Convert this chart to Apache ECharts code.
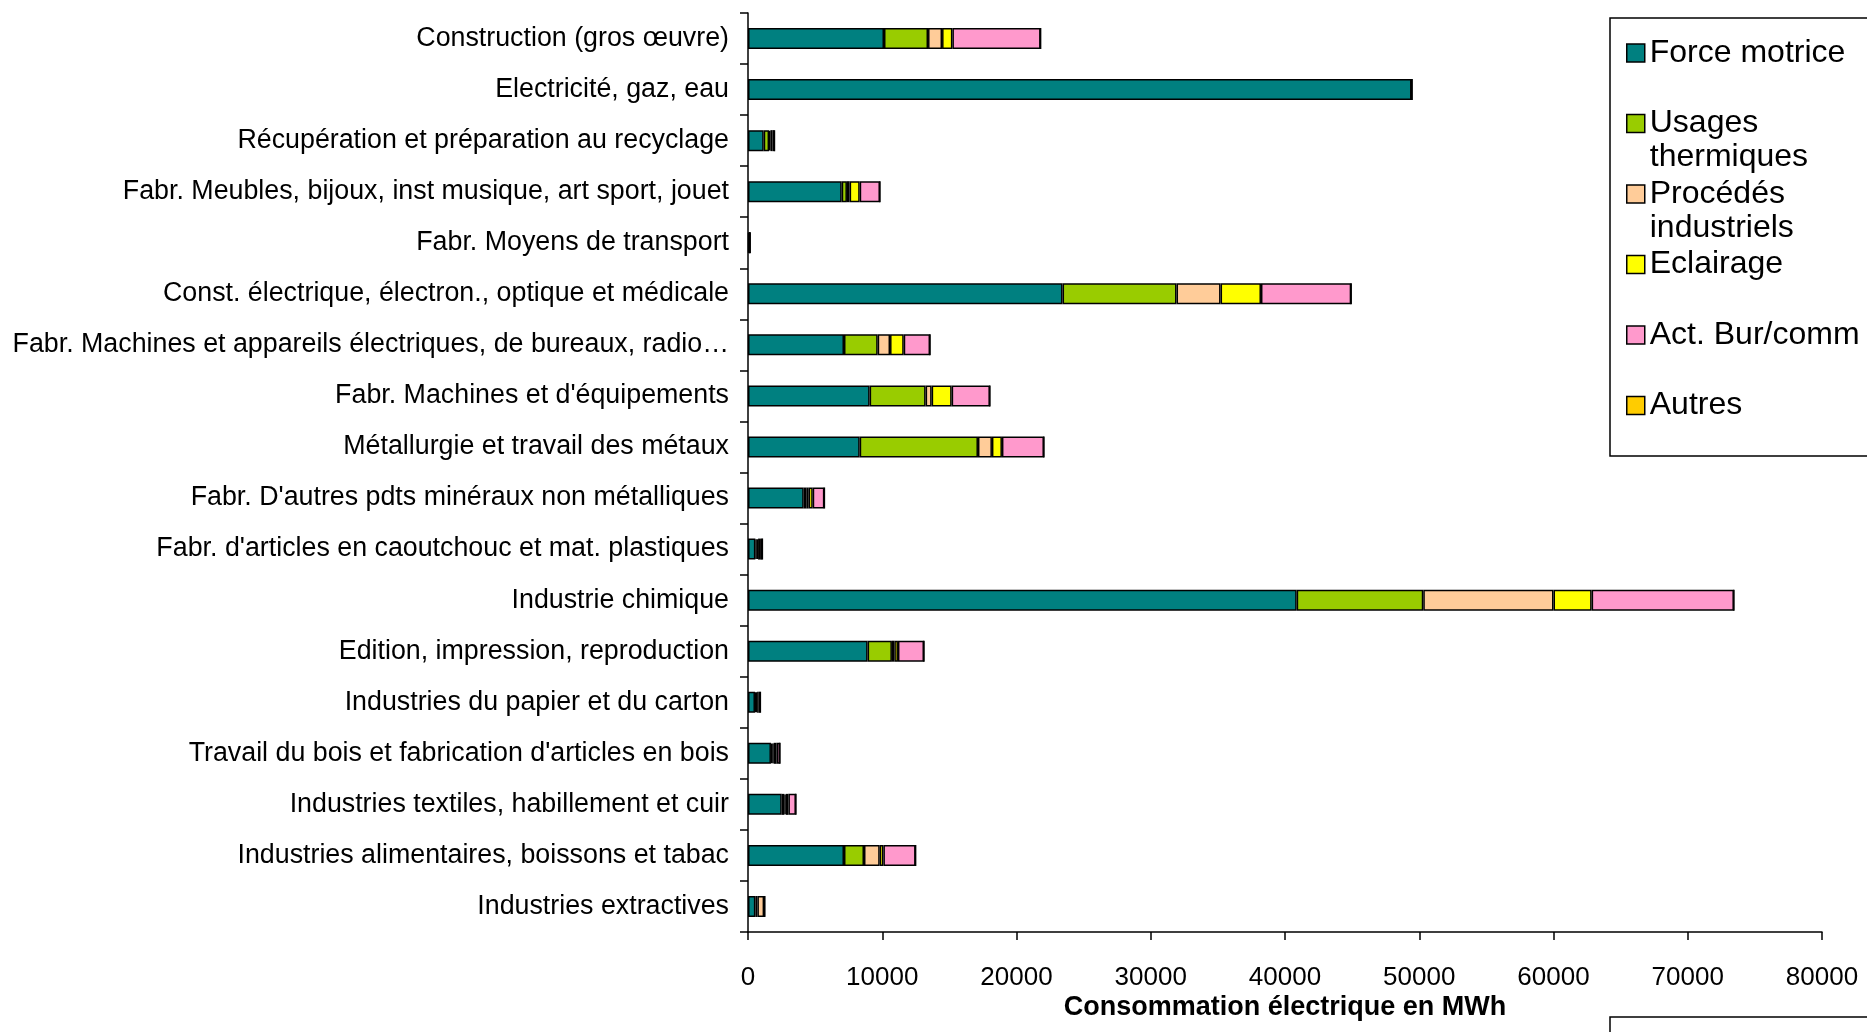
<!DOCTYPE html>
<html>
<head>
<meta charset="utf-8">
<script src="https://cdn.jsdelivr.net/npm/echarts@6/dist/echarts.min.js"></script>
<style>
  html, body { margin: 0; padding: 0; background: #ffffff; }
  #chart { width: 1867px; height: 1032px; }
</style>
</head>
<body>
<div id="chart"></div>
<script>
// Sectors, listed from the bottom of the axis to the top
const categories = [
  'Industries extractives',
  'Industries alimentaires, boissons et tabac',
  'Industries textiles, habillement et cuir',
  "Travail du bois et fabrication d'articles en bois",
  'Industries du papier et du carton',
  'Edition, impression, reproduction',
  'Industrie chimique',
  "Fabr. d'articles en caoutchouc et mat. plastiques",
  "Fabr. D'autres pdts minéraux non métalliques",
  'Métallurgie et travail des métaux',
  "Fabr. Machines et d'équipements",
  'Fabr. Machines et appareils électriques, de bureaux, radio…',
  'Const. électrique, électron., optique et médicale',
  'Fabr. Moyens de transport',
  'Fabr. Meubles, bijoux, inst musique, art sport, jouet',
  'Récupération et préparation au recyclage',
  'Electricité, gaz, eau',
  'Construction (gros œuvre)'
];

// Consumption by end use, MWh (same order as categories)
const forceMotrice     = [550, 7150, 2510, 1710, 520, 8910, 40870, 550, 4150, 8320, 9060, 7150, 23430, 80, 6980, 1170, 49430, 10130];
const usagesThermiques = [150, 1490, 200, 100, 80, 1810, 9430, 100, 220, 8810, 4170, 2510, 8490, 20, 390, 400, 0, 3280];
const procedesIndus    = [500, 1170, 100, 100, 80, 180, 9700, 100, 150, 1040, 450, 920, 3280, 10, 200, 100, 0, 1045];
const eclairage        = [20, 275, 200, 220, 120, 270, 2840, 150, 300, 745, 1490, 1020, 3010, 20, 750, 150, 0, 770];
const actBurComm       = [20, 2400, 560, 250, 120, 1940, 10600, 170, 870, 3130, 2850, 1960, 6720, 20, 1510, 150, 0, 6570];
const autres           = [0, 0, 0, 0, 0, 0, 0, 0, 0, 0, 0, 0, 0, 0, 0, 0, 0, 0];

const seriesNames  = ['Force motrice', 'Usages thermiques', 'Procédés industriels', 'Eclairage', 'Act. Bur/comm', 'Autres'];
// Each legend entry is three lines high; the name sits on the middle line, level with its swatch
const legendLabels = [' \nForce motrice\n ', ' \nUsages\nthermiques', ' \nProcédés\nindustriels', ' \nEclairage\n ', ' \nAct. Bur/comm\n ', ' \nAutres\n '];
const seriesColors = ['#008080', '#99CC00', '#FFCC99', '#FFFF00', '#FF99CC', '#FFCC00'];
const seriesValues = [forceMotrice, usagesThermiques, procedesIndus, eclairage, actBurComm, autres];

const xTicks = { min: 0, max: 80000, interval: 10000 };
const xTitle = 'Consommation électrique en MWh';

const FONT = "'Liberation Sans', Arial, Helvetica, sans-serif";
const LEGEND_LINE = 34;

const chart = echarts.init(document.getElementById('chart'), null, { renderer: 'canvas' });

const series = seriesNames.map((name, i) => ({
  name: name,
  type: 'bar',
  stack: 'total',
  barWidth: 21,
  data: seriesValues[i],
  itemStyle: { color: seriesColors[i], borderColor: '#000000', borderWidth: 1.5 },
  emphasis: { disabled: true }
}));

chart.setOption({
  animation: false,
  backgroundColor: '#ffffff',
  textStyle: { fontFamily: FONT },
  grid: { left: 748, right: 45, top: 13, bottom: 100, containLabel: false },
  xAxis: {
    type: 'value',
    min: xTicks.min,
    max: xTicks.max,
    interval: xTicks.interval,
    splitLine: { show: false },
    axisLine: { show: true, lineStyle: { color: '#000000', width: 1.5 } },
    axisTick: { show: true, length: 8, lineStyle: { color: '#000000', width: 1.5 } },
    axisLabel: { color: '#000000', fontSize: 26, fontFamily: FONT, margin: 33, formatter: v => String(v) }
  },
  yAxis: {
    type: 'category',
    data: categories,
    axisLine: { show: true, lineStyle: { color: '#000000', width: 1.5 } },
    axisTick: { show: true, length: 8, lineStyle: { color: '#000000', width: 1.5 } },
    axisLabel: { color: '#000000', fontSize: 26.8, fontFamily: FONT, margin: 19 }
  },
  legend: {
    orient: 'vertical',
    left: 1626,
    top: 53 - 1.5 * LEGEND_LINE,
    padding: 0,
    itemWidth: 18,
    itemHeight: 18,
    itemGap: 70.5 - 3 * LEGEND_LINE,
    itemTextGap: 11,
    selectedMode: false,
    icon: 'rect',
    data: seriesNames,
    formatter: name => legendLabels[seriesNames.indexOf(name)],
    itemStyle: { borderColor: '#000000', borderWidth: 1.5 },
    textStyle: { color: '#000000', fontSize: 32, fontFamily: FONT, lineHeight: LEGEND_LINE }
  },
  graphic: [
    {
      type: 'rect',
      shape: { x: 1610, y: 18, width: 300, height: 438 },
      style: { fill: 'none', stroke: '#000000', lineWidth: 1.5 },
      silent: true, z: 10
    },
    {
      type: 'rect',
      shape: { x: 1610, y: 1017, width: 300, height: 60 },
      style: { fill: 'none', stroke: '#000000', lineWidth: 1.5 },
      silent: true, z: 10
    },
    {
      type: 'text',
      x: 1285,
      y: 1008,
      style: {
        text: xTitle,
        fontFamily: FONT,
        fontSize: 27,
        fontWeight: 'bold',
        fill: '#000000',
        align: 'center',
        verticalAlign: 'middle'
      },
      silent: true
    }
  ],
  series: series
});
</script>
</body>
</html>
